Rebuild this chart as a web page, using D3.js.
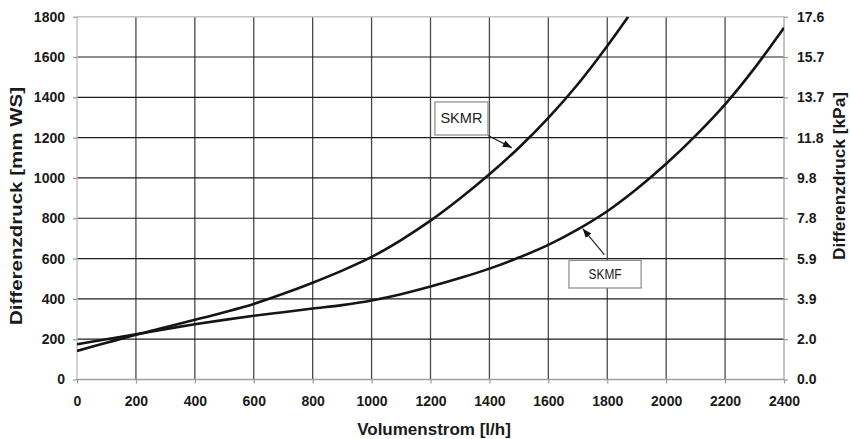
<!DOCTYPE html>
<html>
<head>
<meta charset="utf-8">
<script src="https://cdn.jsdelivr.net/npm/d3@7"></script>
<style>
  html, body { margin: 0; padding: 0; background: #fff; }
  svg { display: block; }
</style>
</head>
<body>
<svg id="chart" width="850" height="439"></svg>
<script>
// ---- data ----
const xTicks = [0, 200, 400, 600, 800, 1000, 1200, 1400, 1600, 1800, 2000, 2200, 2400];
const yTicks = [0, 200, 400, 600, 800, 1000, 1200, 1400, 1600, 1800];
const kPaLabels = ["0.0", "2.0", "3.9", "5.9", "7.8", "9.8", "11.8", "13.7", "15.7", "17.6"];

const skmrFlow = [0, 100, 200, 300, 400, 500, 600, 700, 800, 900, 1000, 1100, 1200, 1300, 1400, 1500, 1600, 1700, 1800, 1871];
const skmrDp   = [142, 182, 222, 259, 296, 334, 375, 425, 480, 540, 608, 692, 788, 898, 1018, 1150, 1298, 1465, 1655, 1800];

const skmfFlow = [0, 100, 200, 300, 400, 500, 600, 700, 800, 900, 1000, 1100, 1200, 1300, 1400, 1500, 1600, 1700, 1800, 1900, 2000, 2100, 2200, 2300, 2400];
const skmfDp   = [175, 200, 224, 250, 274, 296, 316, 334, 352, 369, 392, 423, 461, 503, 550, 605, 668, 745, 835, 945, 1070, 1210, 1365, 1545, 1745];

const seriesNames = ["SKMR", "SKMF"];

// ---- layout ----
const svg = d3.select("#chart");
const x = d3.scaleLinear().domain([0, 2400]).range([77, 784]);
const y = d3.scaleLinear().domain([0, 1800]).range([379.5, 16.7]);
const FONT = "'Liberation Sans', Arial, Helvetica, sans-serif";

// grid
const g = svg.append("g");
g.selectAll("line.v").data(xTicks.filter(d => d > 0 && d < 2400)).enter().append("line")
  .attr("x1", d => x(d)).attr("x2", d => x(d))
  .attr("y1", y(1800)).attr("y2", y(0))
  .attr("stroke", "#4a4a4a").attr("stroke-width", 1.3);
g.selectAll("line.h").data(yTicks.filter(d => d > 0 && d < 1800)).enter().append("line")
  .attr("x1", x(0)).attr("x2", x(2400))
  .attr("y1", d => y(d)).attr("y2", d => y(d))
  .attr("stroke", "#1e1e1e").attr("stroke-width", 1.2);

// borders
g.append("line").attr("x1", x(0)).attr("x2", x(0)).attr("y1", y(1800)).attr("y2", y(0))
  .attr("stroke", "#c4c4c4").attr("stroke-width", 1.5);
g.append("line").attr("x1", x(0)).attr("x2", x(2400)).attr("y1", y(1800)).attr("y2", y(1800))
  .attr("stroke", "#c4c4c4").attr("stroke-width", 1.5);
g.append("line").attr("x1", x(2400)).attr("x2", x(2400)).attr("y1", y(1800)).attr("y2", y(0))
  .attr("stroke", "#a8a8a8").attr("stroke-width", 1.3);
g.append("line").attr("x1", x(0)).attr("x2", x(2400)).attr("y1", y(0)).attr("y2", y(0))
  .attr("stroke", "#a0a0a0").attr("stroke-width", 1.3);

// axes
function styleAxis(sel) {
  sel.select(".domain").remove();
  sel.selectAll(".tick line").attr("stroke", "#999").attr("stroke-width", 1.2);
  sel.selectAll(".tick text").attr("fill", "#1a1a1a")
    .style("font-family", FONT).style("font-weight", "bold").style("font-size", "14px");
}
svg.append("g").attr("transform", `translate(${x(0)},0)`)
  .call(d3.axisLeft(y).tickValues(yTicks).tickSize(4).tickPadding(8).tickFormat(d3.format("d")))
  .call(styleAxis);
svg.append("g").attr("transform", `translate(${x(2400)},0)`)
  .call(d3.axisRight(y).tickValues(yTicks).tickSize(4).tickPadding(9).tickFormat((d, i) => kPaLabels[i]))
  .call(styleAxis);
svg.append("g").attr("transform", `translate(0,${y(0)})`)
  .call(d3.axisBottom(x).tickValues(xTicks).tickSize(4).tickPadding(13).tickFormat(d3.format("d")))
  .call(styleAxis);

// axis titles
svg.append("text").attr("x", 434).attr("y", 435).attr("text-anchor", "middle")
  .style("font-family", FONT).style("font-weight", "bold").style("font-size", "17px").attr("fill", "#1a1a1a")
  .text("Volumenstrom [l/h]");
svg.append("text").attr("transform", "translate(22,206) rotate(-90)").attr("text-anchor", "middle")
  .attr("textLength", 238).attr("lengthAdjust", "spacingAndGlyphs")
  .style("font-family", FONT).style("font-weight", "bold").style("font-size", "17px").attr("fill", "#1a1a1a")
  .text("Differenzdruck [mm WS]");
svg.append("text").attr("transform", "translate(845,176) rotate(-90)").attr("text-anchor", "middle")
  .attr("textLength", 168).attr("lengthAdjust", "spacingAndGlyphs")
  .style("font-family", FONT).style("font-weight", "bold").style("font-size", "16px").attr("fill", "#1a1a1a")
  .text("Differenzdruck [kPa]");

// curves
svg.append("defs").append("clipPath").attr("id", "plot")
  .append("rect").attr("x", x(0)).attr("y", y(1800)).attr("width", x(2400) - x(0)).attr("height", y(0) - y(1800));
const line = d3.line().x(d => x(d[0])).y(d => y(d[1])).curve(d3.curveCatmullRom.alpha(0.5));
const curves = [
  skmrFlow.map((f, i) => [f, skmrDp[i]]),
  skmfFlow.map((f, i) => [f, skmfDp[i]])
];
svg.append("g").attr("clip-path", "url(#plot)").selectAll("path").data(curves).enter().append("path")
  .attr("d", line).attr("fill", "none").attr("stroke", "#151515").attr("stroke-width", 2.6)
  .attr("stroke-linejoin", "round");

// annotations (box in data coords, arrow from box corner to curve)
const marker = svg.select("defs").append("marker").attr("id", "ah")
  .attr("viewBox", "0 0 10 10").attr("refX", 10).attr("refY", 5)
  .attr("markerWidth", 9).attr("markerHeight", 9).attr("markerUnits", "userSpaceOnUse")
  .attr("orient", "auto");
marker.append("path").attr("d", "M0,1 L10,5 L0,9 Z").attr("fill", "#111");

const notes = [
  { name: seriesNames[0], box: [1215, 1377, 1395, 1213], from: [1395, 1211], to: [1476, 1150], size: 14.5, len: 42 },
  { name: seriesNames[1], box: [1670, 591, 1915, 454], from: [1790, 619], to: [1717, 748], size: 14, len: 33 }
];
notes.forEach(n => {
  const x0 = x(n.box[0]), y0 = y(n.box[1]), x1 = x(n.box[2]), y1 = y(n.box[3]);
  svg.append("line").attr("x1", x(n.from[0])).attr("y1", y(n.from[1]))
    .attr("x2", x(n.to[0])).attr("y2", y(n.to[1]))
    .attr("stroke", "#222").attr("stroke-width", 1.2).attr("marker-end", "url(#ah)");
  svg.append("rect").attr("x", x0).attr("y", y0).attr("width", x1 - x0).attr("height", y1 - y0)
    .attr("fill", "#fff").attr("stroke", "#8a8a8a").attr("stroke-width", 1.2);
  svg.append("text").attr("x", (x0 + x1) / 2).attr("y", (y0 + y1) / 2 + 5).attr("text-anchor", "middle")
    .attr("textLength", n.len).attr("lengthAdjust", "spacingAndGlyphs")
    .style("font-family", FONT).style("font-size", n.size + "px").attr("fill", "#222")
    .text(n.name);
});
</script>
</body>
</html>
